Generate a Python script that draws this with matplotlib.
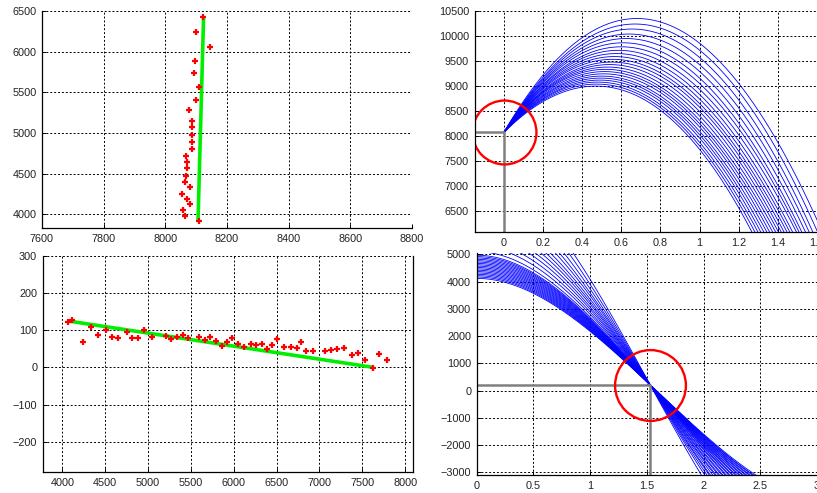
import numpy as np
import matplotlib.pyplot as plt

plt.rcParams['font.family'] = ['Liberation Sans', 'DejaVu Sans']
plt.rcParams['font.size'] = 7.8

# --- top left: x position of points against height, with fitted line
tl_x = [8121, 8098, 8145, 8096, 8093, 8108, 8099, 8076, 8085, 8088, 8087, 8087, 8087,
        8067, 8069, 8069, 8066, 8063, 8080, 8053, 8071, 8080, 8058, 8064, 8108]
tl_y = [6422, 6238, 6053, 5888, 5736, 5568, 5408, 5281, 5149, 5068, 4977, 4890, 4800,
        4718, 4644, 4563, 4472, 4398, 4337, 4246, 4185, 4120, 4049, 3979, 3912]
tl_line_x = [8106, 8124]
tl_line_y = [3915, 6420]

# --- bottom left: points and fitted line
bl_x = [4063, 4117, 4241, 4331, 4413, 4510, 4576, 4653, 4755, 4810, 4880, 4953, 5050,
        5206, 5264, 5334, 5405, 5470, 5595, 5661, 5727, 5793, 5860, 5921, 5983, 6053,
        6123, 6198, 6260, 6330, 6388, 6450, 6501, 6583, 6671, 6734, 6785, 6843, 6928,
        7065, 7135, 7208, 7290, 7380, 7453, 7531, 7628, 7694, 7784]
bl_y = [121, 126, 68, 108, 87, 100, 82, 80, 96, 80, 80, 100, 82,
        85, 77, 82, 87, 79, 82, 73, 82, 71, 57, 68, 80, 63,
        55, 63, 61, 63, 49, 61, 77, 56, 54, 52, 68, 45, 45,
        45, 46, 49, 51, 32, 39, 19, -1, 35, 21]
bl_line_x = [4060, 7630]
bl_line_y = [125, 0]

# --- top right: curve family through a common start point
# each curve: peak position and the x where it crosses the 6500 level
tr_cross = (0.0, 8075)
tr_peak_x = [0.47, 0.475, 0.48, 0.49, 0.495, 0.50, 0.51, 0.515, 0.52, 0.53, 0.54, 0.55,
             0.555, 0.565, 0.575, 0.585, 0.60, 0.61, 0.625, 0.64, 0.655, 0.67, 0.68]
tr_peak_y = [9000, 9040, 9080, 9120, 9160, 9200, 9245, 9290, 9335, 9380, 9430, 9480,
             9535, 9590, 9650, 9715, 9785, 9865, 9950, 10040, 10140, 10240, 10350]
tr_x65 = [1.21, 1.225, 1.24, 1.255, 1.27, 1.285, 1.30, 1.315, 1.33, 1.345, 1.36, 1.375,
          1.39, 1.405, 1.42, 1.44, 1.455, 1.47, 1.49, 1.51, 1.53, 1.555, 1.58]
tr_level = 6500

# --- bottom right: curve family crossing at one point
# each curve: value at x = 0 and the x where it leaves the bottom of the plot
br_cross = (1.53, 210)
br_y0 = [4120, 4170, 4220, 4270, 4320, 4370, 4420, 4470, 4520, 4570, 4620, 4670, 4720,
         4770, 4820, 4870, 4920, 4970, 5100, 5300, 5500, 5700, 5900, 6100, 6300, 6500,
         6750, 7000, 7300, 7650, 8000]
br_xe = [2.46, 2.44, 2.43, 2.41, 2.40, 2.38, 2.37, 2.35, 2.34, 2.32, 2.31, 2.29, 2.28,
         2.26, 2.25, 2.23, 2.22, 2.20, 2.19, 2.17, 2.16, 2.14, 2.13, 2.11, 2.10, 2.08,
         2.06, 2.05, 2.03, 2.01, 1.98]

tl_lim = ((7600, 8800), (3830, 6500))
bl_lim = ((3771, 8095), (-281, 300))
tr_lim = ((-0.15, 1.6), (6086, 10500))
br_lim = ((0, 2.99), (-3092, 5040))


def style(ax, xlim, ylim, xticks, yticks, right=False):
    ax.set_xlim(*xlim)
    ax.set_ylim(*ylim)
    ax.set_xticks(xticks)
    ax.set_yticks(yticks)
    ax.grid(True, color='black', linestyle=(0, (2, 2)), linewidth=0.7)
    ax.set_axisbelow(True)
    for s in ['top', 'right']:
        ax.spines[s].set_visible(False)
    if right:
        ax.spines['right'].set_visible(True)
    for s in ax.spines.values():
        s.set_linewidth(0.9)
    ax.tick_params(direction='in', length=3, width=0.7, colors='black',
                   labelcolor='#222222', pad=4)


def cubic_peak(x0, y0, xp, yp, x1, y1):
    # y = y0 + b t + c t^2 + d t^3 ,  t = x - x0
    A = np.array([[xp, xp**2, xp**3],
                  [1, 2*xp, 3*xp**2],
                  [x1, x1**2, x1**3]])
    return np.linalg.solve(A, [yp - y0, 0, y1 - y0])


fig = plt.figure(figsize=(8.17, 4.93), dpi=100)

ax1 = fig.add_axes([0.0514, 0.5375, 0.4529, 0.4402])
ax2 = fig.add_axes([0.5808, 0.5294, 0.4192, 0.4483])
ax3 = fig.add_axes([0.0523, 0.0426, 0.4536, 0.4387])
ax4 = fig.add_axes([0.5835, 0.0365, 0.4165, 0.4497])

# top left
style(ax1, *tl_lim, np.arange(7600, 8801, 200), np.arange(4000, 6501, 500))
ax1.plot(tl_line_x, tl_line_y, color='#00ee00', lw=2.6, solid_capstyle='butt')
ax1.plot(tl_x, tl_y, '+', color='red', ms=4, mew=1.6)

# bottom left
style(ax3, *bl_lim, np.arange(4000, 8001, 500), np.arange(-200, 301, 100), right=True)
ax3.plot(bl_line_x, bl_line_y, color='#00ee00', lw=2.6, solid_capstyle='butt')
ax3.plot(bl_x, bl_y, '+', color='red', ms=4, mew=1.6)

# top right
style(ax2, *tr_lim, np.arange(0, 1.61, 0.2), np.arange(6500, 10501, 500))
ax2.set_xticklabels(['0', '0.2', '0.4', '0.6', '0.8', '1', '1.2', '1.4', '1.6'])
xs = np.linspace(0, 1.6, 300)
for xp, yp, x65 in zip(tr_peak_x, tr_peak_y, tr_x65):
    b, c, d = cubic_peak(tr_cross[0], tr_cross[1], xp, yp, x65, tr_level)
    ax2.plot(xs, tr_cross[1] + b*xs + c*xs**2 + d*xs**3, color='blue', lw=0.6)
ax2.plot([tr_lim[0][0], tr_cross[0], tr_cross[0]], [tr_cross[1], tr_cross[1], tr_lim[1][0]],
         color='#808080', lw=1.8)
ax2.plot(*tr_cross, 'o', mfc='none', mec='red', mew=1.7, ms=46)

# bottom right
style(ax4, *br_lim, np.arange(0, 3.01, 0.5), np.arange(-3000, 5001, 1000))
ax4.set_xticklabels(['0', '0.5', '1', '1.5', '2', '2.5', '3'])
xs = np.linspace(0, 3, 300)
xc, yc = br_cross
ye = br_lim[1][0]
for y0, xe in zip(br_y0, br_xe):
    A = np.array([[xc**2, xc**3], [xe**2, xe**3]])
    a, b = np.linalg.solve(A, [yc - y0, ye - y0])
    ax4.plot(xs, y0 + a*xs**2 + b*xs**3, color='blue', lw=0.6)
ax4.plot([br_lim[0][0], xc, xc], [yc, yc, br_lim[1][0]], color='#808080', lw=1.8)
ax4.plot(xc, yc, 'o', mfc='none', mec='red', mew=1.7, ms=51)

fig.savefig('out.png', dpi=100)
